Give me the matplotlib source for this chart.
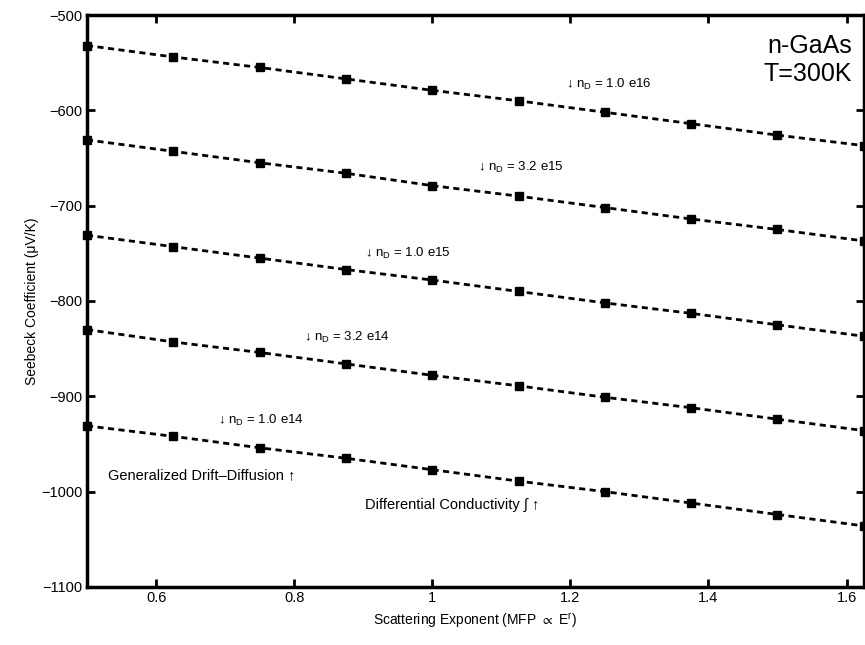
import numpy as np
import matplotlib
matplotlib.use("Agg")
import matplotlib.pyplot as plt

plt.rcParams['font.family'] = ['Liberation Sans', 'DejaVu Sans']
plt.rcParams['mathtext.default'] = 'regular'

# scattering exponent r
r = [0.5, 0.625, 0.75, 0.875, 1.0, 1.125, 1.25, 1.375, 1.5, 1.625]

# Seebeck coefficient (uV/K), one list per doping
s_1e16 = [-532, -544, -555, -567, -579, -590, -602, -614, -626, -637]
s_32e15 = [-631, -643, -655, -666, -679, -690, -702, -714, -725, -737]
s_1e15 = [-731, -743, -755, -767, -778, -790, -802, -813, -825, -837]
s_32e14 = [-830, -843, -854, -866, -878, -889, -901, -912, -924, -936]
s_1e14 = [-931, -942, -954, -965, -977, -989, -1000, -1012, -1024, -1036]

series = [s_1e16, s_32e15, s_1e15, s_32e14, s_1e14]
doping = ['1.0 e16', '3.2 e15', '1.0 e15', '3.2 e14', '1.0 e14']
label_pos = [(1.193, -573), (1.066, -660), (0.902, -750), (0.814, -838), (0.689, -925)]

fig = plt.figure(figsize=(8.65, 6.45), dpi=100)
ax = fig.add_axes([0.1006, 0.09, 0.898, 0.8867])

for s in series:
    ax.plot(r, s, color='black', linestyle=(0, (2.2, 1.6)), linewidth=2,
            marker='s', markersize=5.5, markerfacecolor='black',
            markeredgecolor='black', clip_on=False, zorder=3)

for d, (tx, ty) in zip(doping, label_pos):
    ax.text(tx, ty, u'\u2193 n$_D$ = ' + d, fontsize=9.5, va='center', ha='left')

ax.text(0.531, -983, u'Generalized Drift\u2013Diffusion \u2191', fontsize=10.5,
        va='center', ha='left')
ax.text(0.902, -1014, u'Differential Conductivity \u222b \u2191', fontsize=10.5,
        va='center', ha='left')
ax.text(1.608, -520, 'n-GaAs\nT=300K', fontsize=18, ha='right', va='top',
        linespacing=1.2)

ax.set_xlim(0.5, 1.625)
ax.set_ylim(-1100, -500)
ax.set_xticks([0.6, 0.8, 1.0, 1.2, 1.4, 1.6])
ax.set_xticklabels(['0.6', '0.8', '1', '1.2', '1.4', '1.6'])
ax.set_yticks(np.arange(-1100, -499, 100))
ax.tick_params(direction='in', length=6, width=2, top=True, right=True,
               labelsize=10.5, pad=3)
for sp in ax.spines.values():
    sp.set_linewidth(2.5)

ax.set_xlabel(r'Scattering Exponent (MFP $\propto$ E$^r$)', fontsize=10, labelpad=4)
ax.set_ylabel(u'Seebeck Coefficient (\u03bcV/K)', fontsize=10, labelpad=2)

fig.savefig('out.png', dpi=100)
